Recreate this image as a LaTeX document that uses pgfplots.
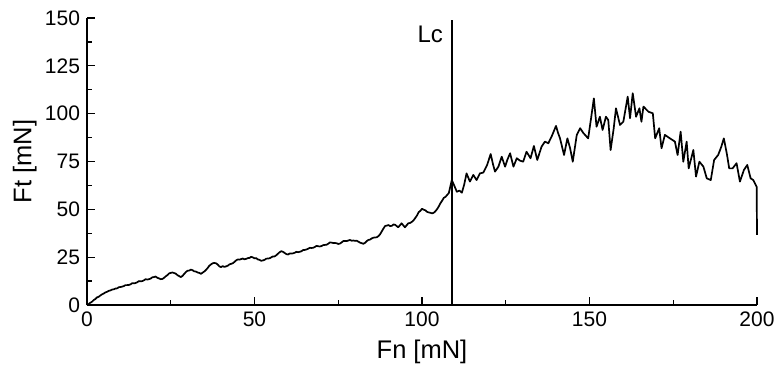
\documentclass[border=0pt]{standalone}
\usepackage{fontspec}
\setmainfont{Liberation Sans}
\usepackage{pgfplots}
\pgfplotsset{compat=1.18}
\begin{document}
\begin{tikzpicture}
\path[use as bounding box] (0,0) rectangle (775pt,367pt);
\begin{axis}[
  at={(87pt,62pt)}, anchor=south west,
  scale only axis, width=670pt, height=287pt,
  xmin=0, xmax=200, ymin=0, ymax=150,
  axis lines*=left,
  axis line style={line width=1.4pt},
  xtick={0,50,...,200}, ytick={0,25,...,150},
  minor x tick num=1, minor y tick num=1,
  tick align=inside,
  major tick length=8pt, minor tick length=5pt,
  every tick/.style={black, line width=1.3pt},
  /pgf/number format/assume math mode=true,
  ticklabel style={font=\fontsize{21}{23}\selectfont},
  xticklabel style={yshift=-3pt},
  yticklabel style={xshift=-3.5pt},
  xlabel={Fn [mN]}, ylabel={Ft [mN]},
  label style={font=\fontsize{25.5}{27}\selectfont},
  xlabel style={at={(axis description cs:0.5,-0.164)}, anchor=center},
  ylabel style={at={(axis description cs:-0.093,0.5)}, anchor=center, rotate=0},
  clip=false,
]
\addplot[black, line width=1.7pt, line join=round] coordinates {
(0,0) (0.5,0.5) (1,1.2) (1.5,1.7) (2,2.6) (2.5,3.1) (3,4.0) (3.5,4.3) (4,5.0) (4.5,5.6) (5,6.0) (5.5,6.6) (6,6.9) (6.5,7.4) (7,7.6) (7.5,8.1) (8,8.2) (8.5,8.6) (9,8.7) (9.5,9.3)
(10,9.4) (10.5,9.6) (11,9.9) (11.5,10.4) (12,10.4) (12.5,10.5) (13,10.8) (13.5,11.4) (14,11.3) (14.5,11.5) (15,11.9) (15.5,12.5) (16,12.4) (16.5,12.5) (17,12.9) (17.5,13.5) (18,13.3) (18.5,13.5) (19,13.8) (19.5,14.5)
(20,14.6) (20.5,14.9) (21,14.2) (21.5,13.9) (22,13.5) (22.5,13.6) (23,14.2) (23.5,15.0) (24,15.6) (24.5,16.5) (25,16.8) (25.5,17.0) (26,16.7) (26.5,16.4) (27,15.6) (27.5,15.1) (28,14.6) (28.5,15.2) (29,16.2) (29.5,17.2)
(30,17.9) (30.5,18.0) (31,18.5) (31.5,18.2) (32,17.6) (32.5,17.5) (33,17.0) (33.5,16.8) (34,16.3) (34.5,16.9) (35,17.5) (35.5,18.3) (36,19.3) (36.5,20.5) (37,21.2) (37.5,21.8) (38,22.0) (38.5,21.8) (39,21.2) (39.5,20.2)
(40,19.8) (40.5,20.3) (41,19.9) (41.5,20.2) (42,20.5) (42.5,21.2) (43,21.5) (43.5,21.8) (44,22.5) (44.5,23.3) (45,23.8) (45.5,23.7) (46,24.0) (46.5,24.3) (47,23.9) (47.5,24.1) (48,24.5) (48.5,24.6) (49,25.2) (49.5,24.9)
(50,24.4) (50.5,24.5) (51,23.8) (51.5,23.6) (52,23.1) (52.5,23.3) (53,23.6) (53.5,24.2) (54,24.3) (54.5,24.4) (55,24.9) (55.5,25.4) (56,25.4) (56.5,26.0) (57,26.8) (57.5,27.6) (58,28.1) (58.5,27.8) (59,27.2) (59.5,26.6)
(60,26.4) (60.5,26.9) (61,26.9) (61.5,27.0) (62,27.3) (62.5,27.8) (63,27.6) (63.5,27.8) (64,28.1) (64.5,28.7) (65,28.8) (65.5,29.0) (66,29.4) (66.5,29.9) (67,29.8) (67.5,29.9) (68,30.3) (68.5,30.9) (69,30.7) (69.5,30.6)
(70,30.8) (70.5,31.3) (71,31.4) (71.5,31.5) (72,32.0) (72.5,32.7) (73,32.6) (73.5,32.4) (74,32.4) (74.5,32.3) (75,31.9) (75.5,32.1) (76,32.7) (76.5,33.4) (77,33.5) (77.5,33.4) (78,33.7) (78.5,34.0) (79,33.6) (79.5,33.7)
(80,33.5) (80.5,33.6) (81,33.1) (81.5,32.6) (82,32.3) (82.5,32.0) (83,32.5) (83.5,33.4) (84,34.0) (84.5,34.2) (85,34.8) (85.5,35.2) (86,35.3) (86.5,35.4) (87,36.0) (87.5,37.0) (88,38.5) (88.5,40.0) (89,41.3) (89.5,41.5)
(90,41.8) (90.5,41.2) (91,41.4) (91.5,42.1) (92,41.9) (92.9,40.6) (93.9,42.7) (94.9,40.6) (95.9,42.7) (96.5,42.9) (97,43.5) (97.5,44.3) (98,45.5) (98.5,46.8) (99,48.5) (99.5,49.2)
(100,50.3) (100.5,49.8) (101,49.5) (101.5,48.7) (102,48.4) (102.5,48.2) (103,47.9) (103.5,48.2) (104,49.0) (104.5,50.1) (105,51.5) (105.5,53.2) (106,54.5) (106.5,56.0) (107,56.5) (107.5,57.5) (108,58.5) (108.9,65.3)
(109.6,62.5) (110.4,59.2) (111.2,59.8) (111.9,58.7) (112.6,63.0) (113.3,68.8) (114.3,64.5) (115.3,68.0) (116.3,65.3) (117.3,68.8)
(118.3,69.2) (119.4,73.0) (120.5,78.9) (121.2,73.5) (121.8,69.7) (122.8,72.3) (123.8,77.5) (124.8,72.3) (125.5,76.0) (126.3,79.3)
(127.3,72.3) (128.3,76.7) (129.2,75.5) (130.2,74.9) (131.2,80.1) (132.4,76.7) (133.4,83.1) (134.4,75.8) (135.7,82.8) (136.7,85.4)
(137.7,84.5) (138.8,88.5) (140.0,93.6) (140.6,90.0) (141.2,87.1) (142.4,78.4) (143.4,87.1) (144.2,82.0) (145.0,74.9) (146.2,88.9)
(147.2,92.4) (148.2,89.8) (149.6,87.1) (150.5,98) (151.3,108) (152.1,93.2) (153.1,98.4) (153.9,91.5) (154.9,98.4) (155.6,96.7)
(156.3,81) (157.2,92) (157.9,102.8) (159.1,94.1) (160.1,95.8) (161.4,108.9) (162.1,97.6) (162.9,110.7) (163.9,98.4) (164.9,102.8)
(165.5,95.8) (166.1,103.7) (167.6,101) (168.9,100.2) (169.6,87.1) (170.8,92.4) (171.5,81.9) (172.5,88.9) (174,87.1) (175.5,85.4)
(176.3,78.4) (177.2,90.6) (178,74.9) (179,85.4) (179.6,71.4) (181,81) (181.8,67.1) (182.8,74.9) (184,72.3) (185,66.2)
(186.2,65.3) (187.2,75.8) (188.4,78.4) (189.3,82.5) (190.1,87.1) (191,79) (191.7,71.4) (192.7,71.4) (193.9,74.1) (194.9,64.5)
(196.1,70.6) (197.1,73.2) (198.1,66.2) (198.9,65.3) (199.9,61.8) (200,36.6)
};
\addplot[black, line width=1.6pt] coordinates {(109,0) (109,149)};
\node[anchor=east, inner sep=0pt, font=\fontsize{24}{26}\selectfont] at (axis cs:106.3,141.4) {Lc};
\end{axis}
\end{tikzpicture}
\end{document}
